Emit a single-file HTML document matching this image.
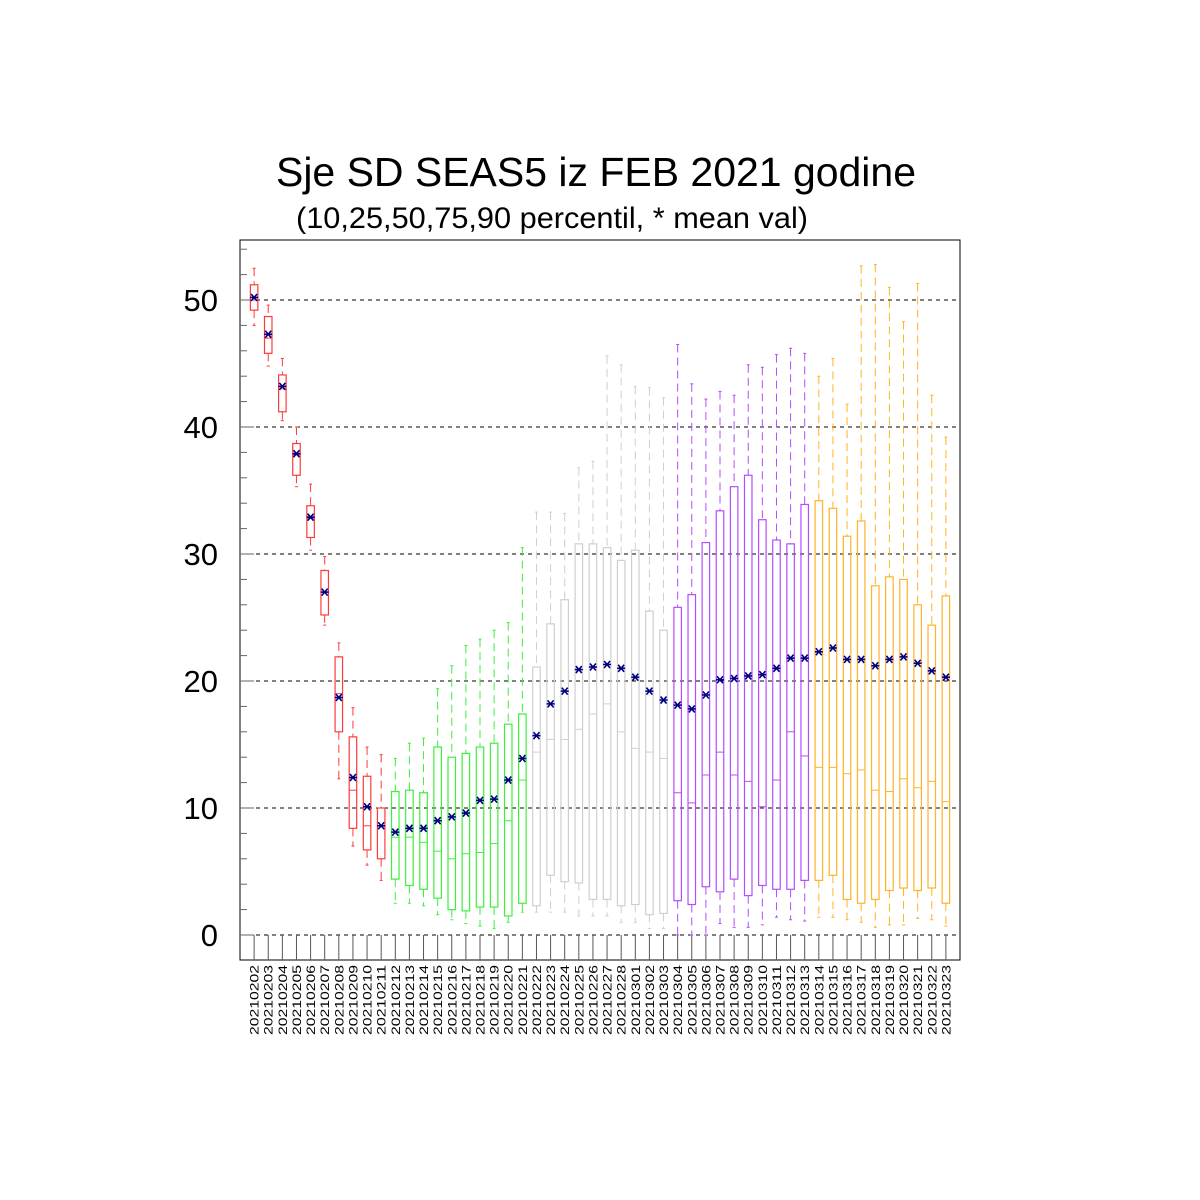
<!DOCTYPE html>
<html><head><meta charset="utf-8"><style>
body{margin:0;background:#fff;}
svg{display:block;font-family:"Liberation Sans",sans-serif;}
</style></head><body>
<svg id="chart" width="1200" height="1200" viewBox="0 0 1200 1200">
<text x="596" y="186" font-size="41" text-anchor="middle" textLength="640" lengthAdjust="spacingAndGlyphs">Sje SD SEAS5 iz FEB 2021 godine</text>
<text x="552" y="228" font-size="30" text-anchor="middle" textLength="512" lengthAdjust="spacingAndGlyphs">(10,25,50,75,90 percentil, * mean val)</text>
<rect x="240" y="240" width="720" height="720" fill="none" stroke="#000" stroke-width="1"/>
<g id="grid"></g><g id="axes"></g><g id="boxes"></g>
</svg>
<script>
const categories=["20210202","20210203","20210204","20210205","20210206","20210207","20210208","20210209","20210210","20210211","20210212","20210213","20210214","20210215","20210216","20210217","20210218","20210219","20210220","20210221","20210222","20210223","20210224","20210225","20210226","20210227","20210228","20210301","20210302","20210303","20210304","20210305","20210306","20210307","20210308","20210309","20210310","20210311","20210312","20210313","20210314","20210315","20210316","20210317","20210318","20210319","20210320","20210321","20210322","20210323"];
const p90=[52.5,49.6,45.4,40,35.5,29.8,23,17.9,14.8,14.2,13.9,15.1,15.5,19.4,21.2,22.8,23.3,24,24.6,30.5,33.3,33.3,33.2,36.8,37.3,45.6,44.9,43.2,43.1,42.3,46.5,43.4,42.2,42.8,42.5,44.9,44.7,45.7,46.2,45.8,44,45.4,41.8,52.7,52.8,51,48.3,51.3,42.5,39.2];
const p75=[51.2,48.7,44.1,38.7,33.8,28.7,21.9,15.6,12.5,10,11.3,11.4,11.2,14.8,14,14.3,14.8,15.1,16.6,17.4,21.1,24.5,26.4,30.8,30.8,30.5,29.5,30.3,25.5,24,25.8,26.8,30.9,33.4,35.3,36.2,32.7,31.1,30.8,33.9,34.2,33.6,31.4,32.6,27.5,28.2,28,26,24.4,26.7];
const p50=[50,47,43,37.8,32.8,27,19,11.4,8.6,8.6,7.7,7.7,7.3,6.6,6,6.4,6.5,7.2,9,12.2,14.4,15.4,15.4,16.2,17.4,18.2,16,14.7,14.4,13.9,11.2,10.4,12.6,14.4,12.6,12.1,10.1,12.2,16,14.1,13.2,13.2,12.7,13,11.4,11.3,12.3,11.6,12.1,10.5];
const p25=[49.2,45.8,41.2,36.2,31.3,25.2,16,8.4,6.7,6,4.4,3.9,3.6,2.9,2,1.9,2.2,2.2,1.5,2.5,2.3,4.7,4.2,4.1,2.8,2.8,2.3,2.4,1.6,1.7,2.7,2.4,3.8,3.4,4.4,3.1,3.9,3.6,3.6,4.3,4.3,4.7,2.8,2.5,2.8,3.5,3.7,3.5,3.7,2.5];
const p10=[48,44.8,40.5,35.3,30.3,24.4,12.3,7,5.5,4.3,2.5,2.5,2.3,1.6,1.2,0.9,0.7,0.5,1,1.8,1.8,1.8,1.8,1.5,1.5,1.5,1,1,0.5,0.5,0,0,0,0.9,0.6,0.6,0.8,1.4,1.2,1.1,1.4,1.4,1.2,1,0.6,0.8,0.8,1.3,1.2,0.7];
const means=[50.2,47.3,43.2,37.9,32.9,27,18.7,12.4,10.1,8.6,8.1,8.4,8.4,9,9.3,9.6,10.6,10.7,12.2,13.9,15.7,18.2,19.2,20.9,21.1,21.3,21,20.3,19.2,18.5,18.1,17.8,18.9,20.1,20.2,20.4,20.5,21,21.8,21.8,22.3,22.6,21.7,21.7,21.2,21.7,21.9,21.4,20.8,20.3];
const yTicks=[0,10,20,30,40,50];

const NS="http://www.w3.org/2000/svg";
const X0=240,X1=960,YB=935,PX=12.7;
const n=categories.length;
const step=(X1-X0)/(n+1);
function xs(i){return X0+(i+1)*step;}
function ys(v){return YB-v*PX;}
function mk(tag,attrs,parent){const e=document.createElementNS(NS,tag);for(const k in attrs)e.setAttribute(k,attrs[k]);parent.appendChild(e);return e;}
function colorFor(i){if(i<10)return"#ff3a3a";if(i<20)return"#3cf03c";if(i<30)return"#cfcfcf";if(i<40)return"#b34dff";return"#ffb326";}

const grid=document.getElementById('grid'),axes=document.getElementById('axes'),boxes=document.getElementById('boxes');
yTicks.forEach(v=>{
  const l=mk('line',{x1:X0,x2:X1,y1:ys(v),y2:ys(v),stroke:'#000','stroke-width':1,'stroke-dasharray':'4,4'},grid);
  
  
  const t=mk('text',{x:218,y:ys(v)+11,'font-size':31,'text-anchor':'end'},axes);
  t.textContent=v;
  
  
});
for(let v=0;v<=54;v+=2){
  const major=v%10===0;
  const l=mk('line',{x1:X0,x2:X0+(major?14:7),y1:ys(v),y2:ys(v),stroke:'#666','stroke-width':1},axes);
  
  
}
categories.forEach((c,i)=>{
  const x=xs(i);
  const tk=mk('line',{x1:x,x2:x,y1:YB,y2:960,stroke:'#555','stroke-width':1},axes);
  
  
  const t=mk('text',{x:0,y:0,'font-size':12,'text-anchor':'end',textLength:70,lengthAdjust:'spacingAndGlyphs',transform:`translate(${x+4.5},965) rotate(-90)`},axes);
  t.textContent=c;
  
  
});
const bw=7.5;
categories.forEach((c,i)=>{
  const x=xs(i),col=colorFor(i);
  const g=mk('g',{},boxes);
  
  
  mk('line',{x1:x,x2:x,y1:ys(p90[i]),y2:ys(p75[i]),stroke:col,'stroke-width':1,'stroke-dasharray':'8,5'},g);
  mk('line',{x1:x,x2:x,y1:ys(p25[i]),y2:ys(p10[i]),stroke:col,'stroke-width':1,'stroke-dasharray':'8,5'},g);
  mk('line',{x1:x-1.5,x2:x+1.5,y1:ys(p90[i]),y2:ys(p90[i]),stroke:col,'stroke-width':1},g);
  mk('line',{x1:x-1.5,x2:x+1.5,y1:ys(p10[i]),y2:ys(p10[i]),stroke:col,'stroke-width':1},g);
  mk('rect',{x:x-bw/2,y:ys(p75[i]),width:bw,height:ys(p25[i])-ys(p75[i]),fill:'none',stroke:col,'stroke-width':1.2},g);
  mk('line',{x1:x-bw/2,x2:x+bw/2,y1:ys(p50[i]),y2:ys(p50[i]),stroke:col,'stroke-width':1},g);
  const m=mk('g',{stroke:'#000080','stroke-width':1.6},g);
  
  
  const my=ys(means[i]);
  mk('line',{x1:x-4,x2:x+4,y1:my,y2:my},m);
  mk('line',{x1:x-3,x2:x+3,y1:my-3.5,y2:my+3.5},m);
  mk('line',{x1:x-3,x2:x+3,y1:my+3.5,y2:my-3.5},m);
});
</script>
</body></html>
